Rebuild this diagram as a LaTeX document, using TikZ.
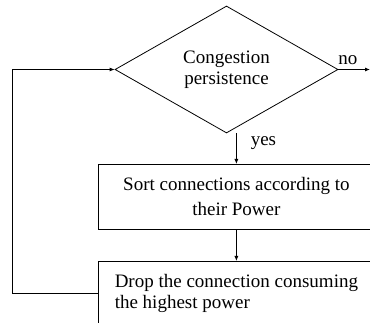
\documentclass[tikz,border=0pt]{standalone}
\usepackage{fontspec}
\setmainfont{Liberation Serif}
\usetikzlibrary{shapes.geometric,arrows.meta}
\begin{document}
\begin{tikzpicture}
[x=1pt,y=-1pt,
  lineDecorate/.style={-{Latex[length=5pt,width=4pt]},line width=0.8pt},
  decisionDecorate/.style={shape=diamond,draw,line width=0.8pt,inner sep=0pt,
    minimum width=223pt,minimum height=127pt,align=center,
    font=\fontsize{19}{21}\selectfont},
  boxDecorate/.style={shape=rectangle,draw,line width=0.8pt,inner sep=0pt,
    minimum width=276pt,minimum height=65pt,anchor=north west},
  labelDecorate/.style={font=\fontsize{19}{21}\selectfont,inner sep=2pt}]
\useasboundingbox (0,0) rectangle (370,323);
\clip (0,0) rectangle (370,323);
%% nodes
\node (decide) at (226.5,69.5) [decisionDecorate] {Congestion\\persistence};
\node (sort) at (98,164) [boxDecorate,align=center,
  font=\fontsize{19}{25}\selectfont] {Sort connections according to\\their Power};
\node (drop) at (98,261) [boxDecorate,align=left,
  font=\fontsize{19}{21}\selectfont] {Drop the connection consuming\\the highest power};
\coordinate (exit) at (370,69.5);
%% edges
\draw[lineDecorate] (decide.east) -- node[labelDecorate,pos=0.3,above,yshift=2pt] {no} (exit);
\draw[lineDecorate] (decide.south -| sort.north) --
  node[labelDecorate,pos=0.3,right,xshift=12pt] {yes} (sort.north);
\draw[lineDecorate] (sort.south) -- (drop.north);
\draw[lineDecorate] (drop.west) -- ++(-86,0) |- (decide.west);
\end{tikzpicture}
\end{document}
